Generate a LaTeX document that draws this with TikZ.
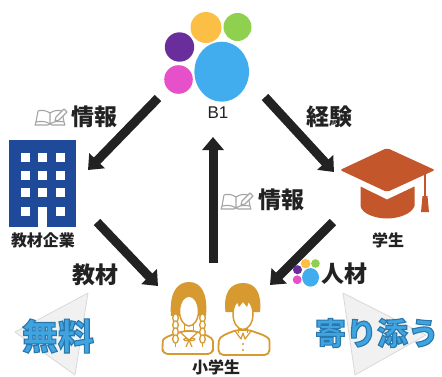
\documentclass[tikz,border=0pt]{standalone}
\usepackage{fontspec}
\setmainfont{Noto Sans CJK JP}
\newfontfamily\latinsans{Liberation Sans}
\usetikzlibrary{arrows.meta}

\definecolor{inkdark}{HTML}{222222}
\definecolor{bldgblue}{HTML}{1F4A9A}
\definecolor{caporange}{HTML}{C3562B}
\definecolor{kidgold}{HTML}{D69A30}
\definecolor{logoorange}{HTML}{FBBF45}
\definecolor{logogreen}{HTML}{8FD14F}
\definecolor{logopurple}{HTML}{6A2E9C}
\definecolor{logopink}{HTML}{E651C9}
\definecolor{logoblue}{HTML}{41ADEF}
\definecolor{slogfill}{HTML}{3FA4E0}
\definecolor{trifill}{HTML}{F1F1F1}
\definecolor{triline}{HTML}{D9D9D9}
\definecolor{bookgray}{HTML}{A4A4A4}

% outlined text: fill in the current colour, stroke in dark blue
\newcommand\strokedtext[1]{%
  \special{pdf:literal direct 0.16 0.47 0.68 RG 1.1 w 2 Tr}#1%
  \special{pdf:literal direct 0 Tr}}

\tikzset{
  % four-colour dot logo, origin at its visual centre
  bonelogo/.pic={
    \fill[logoorange] (-1,-28.5) circle (15.5);
    \fill[logogreen] (30.5,-29) circle (14);
    \fill[logopurple] (-27.5,-9) circle (14.7);
    \fill[logopink] (-28.5,23.5) circle (14.3);
    \fill[logoblue] (14.7,15.7) ellipse (27.3 and 30);
  },
  % open book with pencil, origin at top-left
  bookicon/.pic={
    \begin{scope}[draw=bookgray, line width=1.1pt, line join=round]
      \draw (15,5) .. controls (11,2) and (6,2) .. (3,3) -- (1,14)
            .. controls (6,13) and (11,13) .. (15,16) -- cycle;
      \draw (15,5) .. controls (19,2) and (24,2) .. (27,3) -- (29,14)
            .. controls (24,13) and (19,13) .. (15,16);
      \draw (1,14) -- (0,17) -- (13,17) -- (15,16) -- (17,17) -- (30,17) -- (29,14);
      \draw[fill=white] (20,13) -- (21,9) -- (29,1) -- (32,4) -- (24,12) -- cycle;
    \end{scope}
  },
  flow/.style={draw=inkdark, line width=9pt,
    -{Triangle[width=21pt,length=13pt]}},
  lbl/.style={font=\bfseries\fontsize{23}{23}\selectfont, text=inkdark, inner sep=0pt},
  iconlbl/.style={font=\bfseries\fontsize{16}{16}\selectfont, text=inkdark, inner sep=0pt},
  slogan/.style={inner sep=0pt, text=slogfill, font=\bfseries\fontsize{#1}{#1}\selectfont},
  playtri/.style={fill=trifill, draw=triline, line width=0.8pt, line join=round},
  kid/.style={draw=kidgold, line width=1.8pt, line join=round},
}

\begin{document}
\begin{tikzpicture}[x=1pt, y=-1pt]
\useasboundingbox (0,0) rectangle (442,376);

% ---- background play triangles ----
\fill[playtri] (15,332) -- (88,293) -- (75,375) -- cycle;
\fill[playtri] (343,293) -- (426,335) -- (355,375) -- cycle;

% ---- B1 logo ----
\pic at (207,56) {bonelogo};
\node[inner sep=0pt, font=\latinsans\fontsize{17}{17}\selectfont, text=inkdark] (b1) at (218,113) {B1};

% ---- company building ----
\node[fill=bldgblue, minimum width=67, minimum height=87, inner sep=0pt] (bldg) at (42.5,183.5) {};
\foreach \wx in {21,38,56}
  \foreach \wy in {153,171,188}
    \fill[white] (\wx,\wy) rectangle ++(8.5,8.5);
\fill[white] (21,207) rectangle ++(8.5,8.5);
\fill[white] (56,207) rectangle ++(8.5,8.5);
\fill[white] (38,207) rectangle (46.5,227.2);
\node[iconlbl] (bldg-lbl) at (43,240) {教材企業};

% ---- graduation cap ----
\coordinate (cap) at (387,180);
\fill[caporange, rounded corners=2pt] (340,170) -- (387,148) -- (435,170) -- (387,192) -- cycle;
\fill[caporange] (360.5,186.5) -- (387,199.5) -- (414.5,186.5) -- (414.5,206)
   .. controls (412,214) and (398,218.5) .. (387,218.5)
   .. controls (376,218.5) and (362,214) .. (360.5,206) -- cycle;
\draw[caporange, line width=1.8pt] (425,173) -- (425,198);
\fill[caporange] (422.5,196) -- (427.5,196) -- (429,212) -- (421,212) -- cycle;
\node[iconlbl] (cap-lbl) at (388,240) {学生};

% ---- pupils: girl ----
\coordinate (pupils) at (216,320);
\filldraw[kid, fill=white, rounded corners=5pt]
  (162.5,354) -- (162.5,346) .. controls (163,337) and (175,334) .. (183,331)
  -- (195,331) .. controls (203,334) and (213,337) .. (213,346) -- (213,354) -- cycle;
\fill[kidgold] (171,316) .. controls (169,293) and (177,282) .. (189,282)
  .. controls (201,282) and (208,293) .. (206,316) -- cycle;
\draw[kid, line width=1.5pt] (184.5,323) -- (184.5,332) (193.5,323) -- (193.5,332);
\filldraw[kid, fill=white, line width=1.5pt] (189,311) ellipse (9.5 and 15);
\foreach \by in {318,325,332,339}{
  \filldraw[kid, fill=white, line width=1.3pt] (175.5,\by) ellipse (2.8 and 4.2);
  \filldraw[kid, fill=white, line width=1.3pt] (202.5,\by) ellipse (2.8 and 4.2);
}
\draw[kid, line width=1.3pt] (175.5,343) -- (175.5,347) (202.5,343) -- (202.5,347);
\draw[kid, line width=1.2pt] (181,333) -- (189,340) -- (197,333);
\draw[kid, line width=1.2pt] (189,340) .. controls (183,335) and (181,343) .. (189,340)
  .. controls (197,335) and (197,343) .. (189,340);
\draw[kid, line width=1.2pt] (189,340) -- (186,347) (189,340) -- (192,347);

% ---- pupils: boy ----
\filldraw[kid, fill=white, rounded corners=5pt]
  (218.5,355) -- (218.5,346) .. controls (219,336) and (229,333) .. (236,330)
  -- (250,330) .. controls (257,333) and (269.5,336) .. (269.5,346) -- (269.5,355) -- cycle;
\fill[kidgold] (225.5,312) .. controls (223,292) and (231,283) .. (243,283)
  .. controls (255,283) and (262,292) .. (260,312) -- cycle;
\draw[kid, line width=1.5pt] (238.5,326) -- (238.5,333) (247.5,326) -- (247.5,333);
\filldraw[kid, fill=white, line width=1.5pt] (243,314) ellipse (10 and 15.5);
\fill[kidgold] (232.8,309) .. controls (233,298) and (238,296) .. (243,296)
  .. controls (249,296) and (253,299) .. (253.2,305) -- (249,301) -- (247,307)
  -- (243,302) -- (239,307) -- (237,302) -- cycle;
\draw[kid, line width=1.2pt] (235,331) -- (241,339) -- (243,333) -- (245,339) -- (251,331);
\fill[kidgold] (243,344) circle (1.1) (243,350) circle (1.1);
\node[iconlbl] (pupils-lbl) at (216,367) {小学生};

% ---- connector anchors ----
\coordinate (b1-l) at (158,98);
\coordinate (b1-r) at (265,97);
\coordinate (b1-b) at (213,137);
\coordinate (bldg-in) at (88,170);
\coordinate (bldg-out) at (97,222);
\coordinate (cap-in) at (334,172);
\coordinate (cap-out) at (333,222);
\coordinate (pupils-l) at (158,286);
\coordinate (pupils-r) at (270,285);
\coordinate (pupils-t) at (213,263);

% ---- flows ----
\draw[flow] (b1-l) -- (bldg-in);
\draw[flow] (bldg-out) -- (pupils-l);
\draw[flow] (b1-r) -- (cap-in);
\draw[flow] (cap-out) -- (pupils-r);
\draw[flow] (pupils-t) -- (b1-b);

% ---- flow labels ----
\pic at (35,108) {bookicon};
\node[lbl] (info-l) at (94,117) {情報};
\node[lbl] (exp) at (329,117) {経験};
\node[lbl] (mat) at (95,275) {教材};
\pic at (221,192) {bookicon};
\node[lbl] (info-m) at (281,200) {情報};
\pic[scale=0.31] at (306,272.5) {bonelogo};
\node[lbl] (talent) at (344,274) {人材};

% ---- slogans ----
\node[slogan=36] (free) at (58,336) {\strokedtext{無料}};
\node[slogan=31] (close) at (377,333) {\strokedtext{寄り添う}};
\end{tikzpicture}
\end{document}
